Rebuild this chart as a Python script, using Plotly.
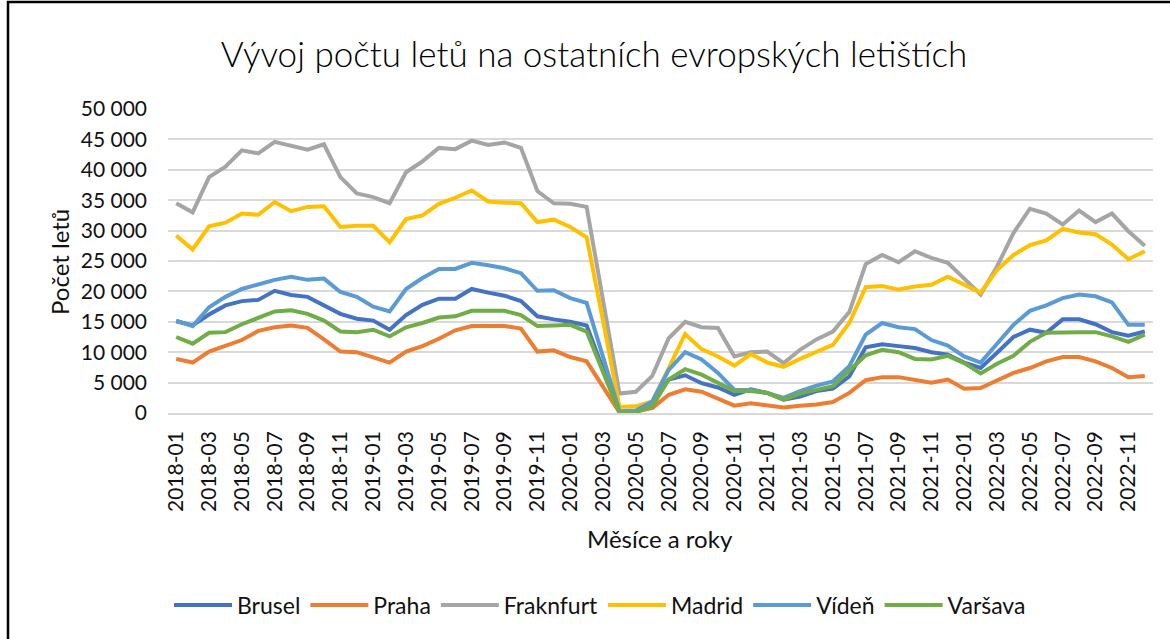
import plotly.graph_objects as go

months = [f"{y}-{m:02d}" for y in range(2018, 2023) for m in range(1, 13)]

brusel = [15100, 14400, 16200, 17700, 18400, 18600, 20100, 19400, 19100, 17700, 16300, 15500,
          15200, 13700, 16100, 17800, 18800, 18800, 20400, 19800, 19300, 18400, 15900, 15400,
          15000, 14400, 7400, 100, 300, 1900, 5500, 6200, 4900, 4200, 3000, 3900,
          3300, 2200, 2700, 3600, 4000, 6000, 10800, 11300, 11000, 10700, 10000, 9600,
          8300, 7400, 9900, 12500, 13700, 13200, 15400, 15400, 14600, 13300, 12700, 13400]
praha = [8900, 8300, 10100, 11100, 12000, 13500, 14100, 14400, 14000, 12100, 10100, 10000,
         9200, 8300, 10100, 11000, 12200, 13600, 14300, 14300, 14300, 13900, 10100, 10300,
         9200, 8500, 4400, 100, 300, 800, 3000, 3900, 3500, 2400, 1200, 1600,
         1200, 900, 1200, 1400, 1800, 3300, 5400, 5900, 5900, 5500, 5000, 5500,
         4000, 4100, 5300, 6600, 7400, 8500, 9200, 9200, 8500, 7400, 5900, 6100]
frankfurt = [34500, 33000, 38800, 40500, 43200, 42700, 44600, 44000, 43300, 44200, 38800, 36100,
             35500, 34500, 39600, 41400, 43600, 43400, 44800, 44100, 44500, 43600, 36500, 34500,
             34400, 33900, 18600, 3200, 3500, 6100, 12300, 15000, 14100, 14000, 9300, 10000,
             10100, 8200, 10400, 12100, 13400, 16600, 24500, 26000, 24800, 26600, 25500, 24700,
             22100, 19500, 24100, 29600, 33600, 32800, 31000, 33300, 31400, 32800, 29900, 27500]
madrid = [29200, 26900, 30700, 31300, 32800, 32600, 34700, 33200, 33900, 34000, 30600, 30800,
          30800, 28100, 31900, 32500, 34400, 35400, 36600, 34800, 34600, 34500, 31400, 31800,
          30600, 28900, 15200, 1000, 1100, 1900, 7400, 13000, 10500, 9300, 7800, 9700,
          8300, 7600, 8900, 10000, 11200, 14800, 20700, 20900, 20300, 20800, 21100, 22400,
          21100, 19800, 23500, 26000, 27600, 28400, 30300, 29700, 29400, 27700, 25300, 26600]
viden = [15200, 14300, 17400, 19100, 20400, 21100, 21900, 22400, 21900, 22100, 19900, 19100,
         17500, 16700, 20400, 22200, 23700, 23700, 24700, 24300, 23800, 23000, 20100, 20200,
         18900, 18100, 9400, 300, 400, 1900, 7100, 10000, 8800, 6600, 3800, 3800,
         3300, 2500, 3600, 4500, 5200, 7700, 12900, 14800, 14100, 13800, 12000, 11100,
         9300, 8300, 11400, 14500, 16800, 17700, 18900, 19500, 19200, 18200, 14500, 14500]
varsava = [12500, 11400, 13200, 13300, 14600, 15600, 16700, 16900, 16300, 15200, 13400, 13300,
           13700, 12600, 14100, 14800, 15700, 15900, 16800, 16800, 16800, 16100, 14300, 14400,
           14500, 13400, 6900, 100, 100, 1100, 5500, 7200, 6300, 5000, 3600, 3600,
           3300, 2200, 3200, 3800, 4400, 7000, 9500, 10400, 10000, 8900, 8800, 9400,
           8200, 6500, 8100, 9400, 11700, 13200, 13300, 13300, 13300, 12600, 11700, 12900]

series_names = ["Brusel", "Praha", "Fraknfurt", "Madrid", "Vídeň", "Varšava"]
series_values = [brusel, praha, frankfurt, madrid, viden, varsava]
colors = ["#4472C4", "#ED7D31", "#A5A5A5", "#FFC000", "#5B9BD5", "#70AD47"]

y_tickvals = [0, 5000, 10000, 15000, 20000, 25000, 30000, 35000, 40000, 45000, 50000]
y_ticktext = ["0", "5 000", "10 000", "15 000", "20 000", "25 000", "30 000",
              "35 000", "40 000", "45 000", "50 000"]
x_tickvals = months[::2]

FONT = "Lato"
TXT = "#111111"
fig = go.Figure()
for name, vals, col in zip(series_names, series_values, colors):
    fig.add_trace(go.Scatter(x=months, y=vals, name=name, mode="lines",
                             line=dict(color=col, width=4)))

L, R, T, B = 168, 17, 109, 226
W, H = 1170, 639
pw = W - L - R
ph = H - T - B

def px_to_paper_x(px):
    return (px - L) / pw

def px_to_paper_y(py):
    return (H - B - py) / ph

fig.update_layout(
    width=W, height=H,
    margin=dict(l=L, r=R, t=T, b=B),
    paper_bgcolor="white", plot_bgcolor="white",
    font=dict(family=FONT, size=20, color=TXT),
    title=dict(text="Vývoj počtu letů na ostatních evropských letištích",
               x=594 / W, xanchor="center", xref="container",
               y=1 - 55 / H, yanchor="middle", yref="container",
               font=dict(family=FONT, size=35, color="#000000", weight=300)),
    showlegend=True,
    legend=dict(orientation="h", x=px_to_paper_x(600), xanchor="center",
                y=px_to_paper_y(605), yanchor="middle",
                font=dict(family=FONT, size=23, color=TXT),
                itemwidth=58, bgcolor="rgba(0,0,0,0)"),
    xaxis=dict(type="category", categoryorder="array", categoryarray=months,
               range=[-0.5, len(months) - 0.5],
               tickmode="array", tickvals=x_tickvals, ticktext=x_tickvals,
               tickangle=-90, showgrid=False, showline=True,
               linecolor="#d9d9d9", linewidth=1.5, ticks="",
               ticklabelstandoff=8,
               tickfont=dict(family=FONT, size=21, color=TXT), zeroline=False),
    yaxis=dict(range=[0, 50000], tickmode="array", tickvals=y_tickvals,
               ticktext=y_ticktext, showgrid=True, gridcolor="#d9d9d9",
               gridwidth=1.5, zeroline=False, showline=False, ticks="",
               ticklabelstandoff=20,
               tickfont=dict(family=FONT, size=21, color=TXT)),
    annotations=[
        dict(text="Počet letů", xref="paper", yref="paper",
             x=px_to_paper_x(59), y=px_to_paper_y(262), xanchor="center",
             yanchor="middle", textangle=-90, showarrow=False,
             font=dict(family=FONT, size=24, color=TXT)),
        dict(text="Měsíce a roky", xref="paper", yref="paper",
             x=px_to_paper_x(660), y=px_to_paper_y(538), xanchor="center",
             yanchor="middle", showarrow=False,
             font=dict(family=FONT, size=24, color=TXT)),
    ],
    shapes=[dict(type="rect", xref="paper", yref="paper",
                 x0=px_to_paper_x(8), x1=px_to_paper_x(1200),
                 y0=px_to_paper_y(660), y1=px_to_paper_y(2),
                 line=dict(color="black", width=2.5), fillcolor="rgba(0,0,0,0)",
                 layer="below")],
)

fig.write_html("out.html", config={"displayModeBar": False},
               post_script="document.body.style.margin='0';document.body.style.padding='0';")
